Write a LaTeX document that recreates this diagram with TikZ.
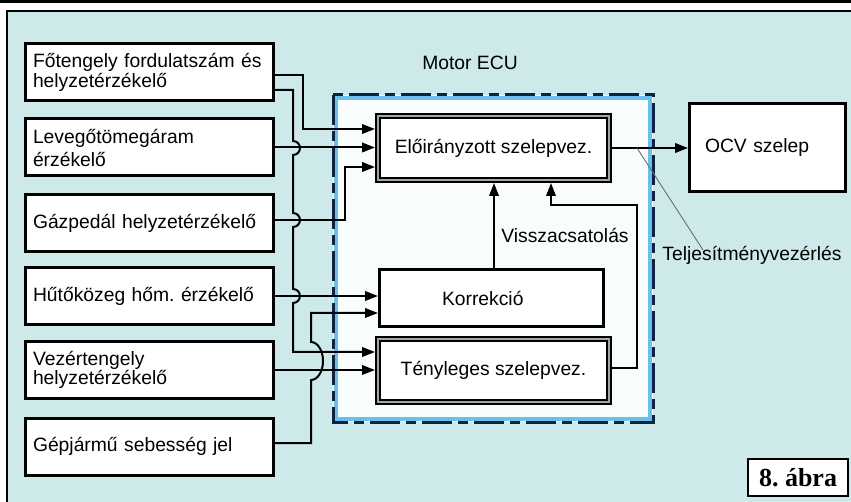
\documentclass[tikz,border=0pt]{standalone}
\usepackage{fontspec}
\setmainfont{Liberation Sans}
\newfontfamily\labfont{Liberation Sans}
\newfontfamily\abrafont{Liberation Serif}
\usetikzlibrary{arrows.meta,calc}
\frenchspacing
\definecolor{bgcyan}{RGB}{205,233,234}
\definecolor{ecunavy}{RGB}{12,36,66}
\definecolor{ecuglow}{RGB}{105,192,236}
\definecolor{ecuin}{RGB}{248,252,253}
\definecolor{leadgray}{RGB}{110,110,110}
\definecolor{innergray}{RGB}{165,165,165}
\begin{document}
\begin{tikzpicture}[x=1pt,y=-1pt,
  lab/.style={font=\labfont\fontsize{19.3}{19}\selectfont},
  sbox/.style={draw=black, line width=3pt, fill=white, minimum width=248pt,
    minimum height=57pt, text width=233pt, inner xsep=7.5pt, inner ysep=0pt,
    align=left, lab},
  dbox/.style={draw=black, line width=1.8pt, double=innergray, double distance=2pt,
    fill=white, outer sep=2.8pt, minimum width=231.4pt, inner sep=0pt, lab},
  plainbox/.style={draw=black, line width=3pt, fill=white, inner ysep=0pt, align=left, lab},
  conn/.style={line width=2pt, black},
  arr/.style={conn, -{Triangle[length=13pt,width=9.5pt]}},
  leader/.style={leadgray, line width=0.9pt}
]
\useasboundingbox (0,0) rectangle (851,502);
\fill[white] (0,0) rectangle (851,502);
\draw[line width=3pt] (0,1.5) -- (851,1.5);
\draw[fill=bgcyan, line width=1.3pt] (7,11) rectangle (858,510);

% ECU frame
\node[draw=none, fill=ecuin, minimum width=320pt, minimum height=327pt,
      inner sep=0pt, outer sep=0pt] (ecu) at (493,258.5) {};
\draw[ecuglow, line width=4.5pt] ([xshift=3pt,yshift=-3pt]ecu.north west)
      rectangle ([xshift=-3pt,yshift=3pt]ecu.south east);
\draw[ecunavy, line width=3pt, dash pattern=on 30pt off 6pt on 10pt off 6pt]
      (ecu.north west) rectangle (ecu.south east);
\node[lab] (motor) at (470,63) {Motor ECU};

% sensor boxes
\node[sbox, font=\labfont\fontsize{19.3}{17.5}\selectfont] (b1) at (149.5,72.5) {Főtengely fordulatszám és\\helyzetérzékelő};
\node[sbox, font=\labfont\fontsize{19.3}{23}\selectfont] (b2) at (149.5,147.5) {Levegőtömegáram\\érzékelő};
\node[sbox] (b3) at (149.5,223.5) {Gázpedál helyzetérzékelő};
\node[sbox] (b4) at (149.5,296) {Hűtőközeg hőm. érzékelő};
\node[sbox, font=\labfont\fontsize{19.3}{18.7}\selectfont] (b5) at (149.5,370) {Vezértengely\\helyzetérzékelő};
\node[sbox] (b6) at (149.5,446.5) {Gépjármű sebesség jel};

% ECU inner boxes
\node[dbox, minimum height=64.4pt] (elo) at (493.5,148) {Előirányzott szelepvez.};
\node[plainbox, minimum width=224pt, minimum height=57pt, text width=99pt,
      inner xsep=62.5pt] (kor) at (491.5,298) {Korrekció};
\node[dbox, minimum height=63.4pt] (teny) at (493.5,370.5) {Tényleges szelepvez.};
\node[plainbox, minimum width=156pt, minimum height=88pt, text width=125pt,
      inner xsep=15.5pt] (ocv) at (767.5,147.5) {OCV szelep};

% labels
\node[lab] (vissza) at (565,235) {Visszacsatolás};
\node[lab] (tel) at (752,255) {Teljesítményvezérlés};
\node[draw, line width=2pt, fill=white, minimum width=100pt, minimum height=37pt,
      inner sep=0pt, font=\abrafont\bfseries\fontsize{26}{26}\selectfont] (abra) at (798,477.5) {8. ábra};

% connectors from sensors
\draw[arr] (b1.east |- 0,75) -| (303,129) -- (elo.west |- 0,129);
\draw[arr] (b1.east |- 0,90) -- (293,90) -- (293,141)
   arc[start angle=90,end angle=-90,radius=7pt] -- (293,213)
   arc[start angle=90,end angle=-90,radius=7pt] -- (293,289)
   arc[start angle=90,end angle=-90,radius=7pt] -- (293,352)
   -- (teny.west |- 0,352);
\draw[arr] (b2.east) -- (elo.west |- b2.east);
\draw[arr] (b3.east |- 0,220) -| (345,167) -- (elo.west |- 0,167);
\draw[arr] (b4.east) -- (kor.west |- b4.east);
\draw[arr] (b5.east) -- (teny.west |- b5.east);
\draw[arr] (b6.east |- 0,443) -- (311,443) -- (311,380)
   arc[start angle=-90,end angle=90,x radius=12pt,y radius=19pt] -- (311,313)
   -- (kor.west |- 0,313);

% feedback
\draw[arr] (kor.north -| 494,0) -- (elo.south -| 494,0);
\draw[arr] (teny.east |- 0,368) -| (637,205) -| (elo.south -| 551,0);

% output
\draw[arr] (elo.east) -- (ocv.west |- elo.east);
\coordinate (lead0) at (637,148);
\coordinate (lead1) at (703,250);
\draw[leader] (lead0) -- (lead1);
\end{tikzpicture}
\end{document}
